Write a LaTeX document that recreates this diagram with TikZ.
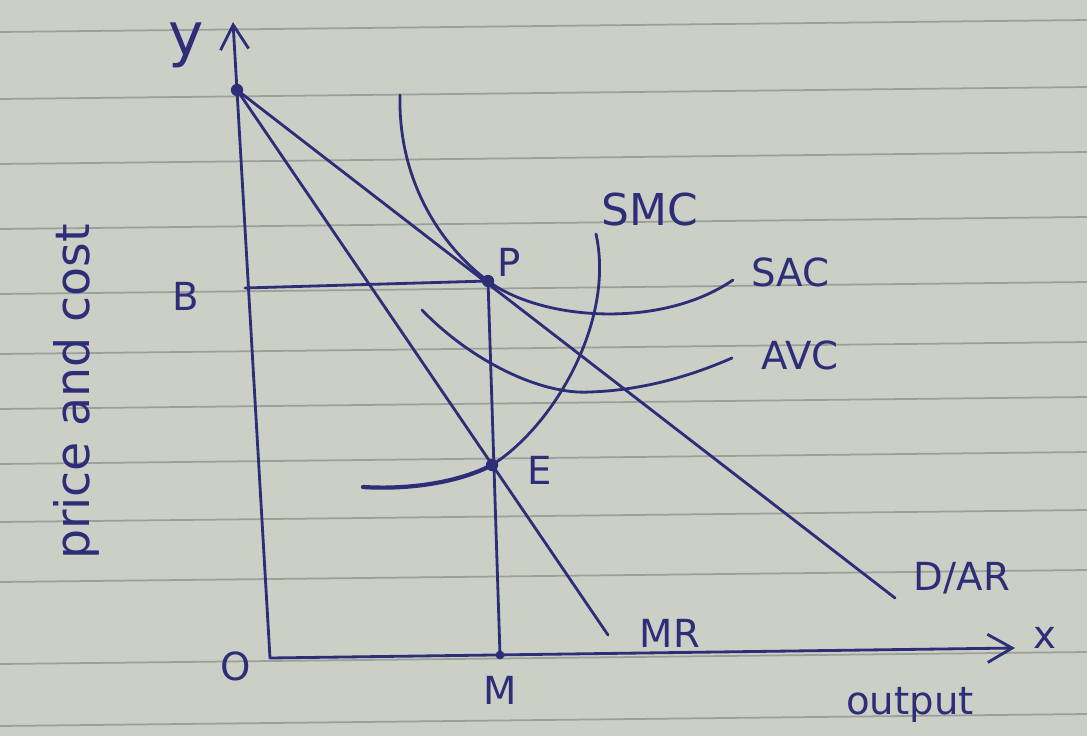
\documentclass[tikz,border=0pt]{standalone}
\usepackage{fontspec}
\setsansfont{DejaVu Sans}
\usetikzlibrary{arrows.meta}
\definecolor{ink}{RGB}{45,45,120}
\definecolor{paper}{RGB}{204,207,197}
\definecolor{rule}{RGB}{155,160,155}
\tikzset{
  pen/.style={draw=ink, line width=1.6pt, line cap=round},
  axis/.style={pen, -{Straight Barb[length=14pt,width=16pt,line width=1.6pt]}},
  lbl/.style={text=ink, font=\sffamily\fontsize{22}{24}\selectfont, inner sep=0pt},
  ptdot/.style={circle, fill=ink, inner sep=0pt, minimum size=7pt},
  rl/.style={draw=rule, line width=1pt}
}
\begin{document}
\begin{tikzpicture}[x=0.02cm,y=-0.02cm]
\useasboundingbox (0,0) rectangle (1087,736);
\fill[paper] (0,0) rectangle (1087,736);
% ruled lines
\foreach \yy in {28,95,160,225,290,350,405,460,518,578,660,722}
  \draw[rl] (0,\yy+4) -- (1087,\yy-8);
% points
\coordinate (O) at (270,658);
\coordinate (Ytop) at (233,22);
\coordinate (Xend) at (1015,648);
\coordinate (M) at (500,655);
\coordinate (Bp) at (245,288);
\coordinate (Dend) at (895,598);
\coordinate (MRend) at (608,635);
\node[ptdot] (A) at (237,90) {};
\node[ptdot] (P) at (488,281) {};
\node[ptdot] (E) at (492,465) {};
\node[ptdot, minimum size=5pt] (Mdot) at (M) {};
% axes
\draw[axis] (O) -- (Ytop);
\draw[axis] (O) -- (Xend);
% demand and MR
\draw[pen] (A.center) -- (Dend);
\draw[pen] (A.center) -- (MRend);
% B-P and P-M
\draw[pen] (Bp) -- (P.center);
\draw[pen] (P.center) -- (M);
% SAC
\draw[pen] (400,95) .. controls (398,180) and (440,245) .. (P.center)
  .. controls (540,320) and (660,330) .. (733,280);
% AVC
\draw[pen] (422,310) .. controls (470,360) and (540,395) .. (590,392)
  .. controls (650,390) and (700,372) .. (732,358);
% SMC
\draw[pen, line width=2.4pt] (363,487) .. controls (410,490) and (460,482) .. (E.center);
\draw[pen] (E.center) .. controls (555,425) and (615,320) .. (596,234);
% labels
\node[lbl, font=\sffamily\fontsize{34}{36}\selectfont] (ylab) at (186,45) {y};
\node[lbl] (Blab) at (186,296) {B};
\node[lbl] (Plab) at (509,262) {P};
\node[lbl] (Elab) at (540,470) {E};
\node[lbl, font=\sffamily\fontsize{25}{27}\selectfont] (SMClab) at (650,210) {SMC};
\node[lbl] (SAClab) at (790,272) {SAC};
\node[lbl] (AVClab) at (800,355) {AVC};
\node[lbl] (DARlab) at (962,578) {D/AR};
\node[lbl] (MRlab) at (670,633) {MR};
\node[lbl] (xlab) at (1045,638) {x};
\node[lbl] (Olab) at (236,666) {O};
\node[lbl] (Mlab) at (500,690) {M};
\node[lbl] (outlab) at (910,705) {output};
\node[lbl, rotate=90, font=\sffamily\fontsize{27}{29}\selectfont] (pclab) at (76,392) {price and cost};
\end{tikzpicture}
\end{document}
